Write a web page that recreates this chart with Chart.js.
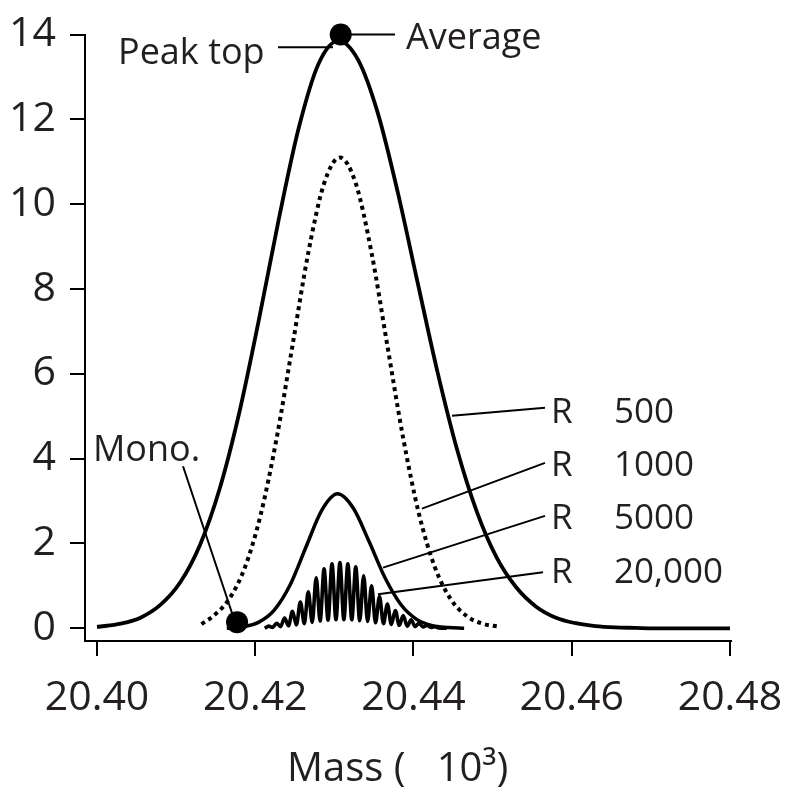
<!DOCTYPE html>
<html>
<head>
<meta charset="utf-8">
<script src="https://cdn.jsdelivr.net/npm/chart.js@4.4.1/dist/chart.umd.min.js"></script>
<style>
  html, body { margin: 0; padding: 0; background: #fff; }
  #wrap { width: 785px; height: 790px; }
</style>
</head>
<body>
<div id="wrap"><canvas id="canvas"></canvas></div>
<script>
// mass values are in units of 10^3
const massR500 = [20.400, 20.403, 20.4055, 20.408, 20.4105, 20.413, 20.4155, 20.418, 20.4205, 20.423, 20.4255, 20.428, 20.4305,
    20.433, 20.4355, 20.438, 20.4405, 20.443, 20.4455, 20.448, 20.4505, 20.453, 20.4555, 20.458, 20.4605, 20.463, 20.4655,
    20.468, 20.4705, 20.480];
const intR500 = [0.03, 0.11, 0.25, 0.55, 1.08, 1.96, 3.29, 5.10, 7.31, 9.67, 11.80, 13.31, 13.85,
    13.40, 12.14, 10.29, 8.17, 6.07, 4.22, 2.75, 1.67, 0.96, 0.51, 0.25, 0.12, 0.05, 0.02,
    0.01, 0, 0];

const massR1000 = [20.4132, 20.4147, 20.4167, 20.4187, 20.4207, 20.4227, 20.4247, 20.4267, 20.4287, 20.4307,
    20.4327, 20.4347, 20.4367, 20.4387, 20.4407, 20.4427, 20.4447, 20.4467, 20.4487, 20.4507];
const intR1000 = [0.10, 0.29, 0.69, 1.44, 2.69, 4.48, 6.66, 8.85, 10.49, 11.10,
    10.49, 8.85, 6.66, 4.48, 2.69, 1.44, 0.69, 0.29, 0.11, 0.04];

const massR5000 = [20.4164, 20.4184, 20.4204, 20.4224, 20.4244, 20.4264, 20.4284, 20.4304,
    20.4324, 20.4344, 20.4364, 20.4384, 20.4404, 20.4424, 20.4444, 20.4464];
const intR5000 = [0, 0.035, 0.14, 0.43, 1.02, 1.91, 2.78, 3.17,
    2.83, 2.04, 1.19, 0.56, 0.21, 0.06, 0.02, 0];

// isotope peaks and the valleys between them
const massR20000 = [20.4212, 20.4217, 20.4222, 20.4227, 20.4232, 20.4237, 20.4242, 20.4247, 20.4252, 20.4257,
    20.4262, 20.4267, 20.4272, 20.4277, 20.4282, 20.4287, 20.4292, 20.4297, 20.4302, 20.4307, 20.4312, 20.4317,
    20.4322, 20.4327, 20.4332, 20.4337, 20.4342, 20.4347, 20.4352, 20.4357, 20.4362, 20.4367, 20.4372, 20.4377,
    20.4382, 20.4387, 20.4392, 20.4397, 20.4402, 20.4407, 20.4412, 20.4417, 20.4422, 20.4427, 20.4432, 20.4442];
const intR20000 = [0, 0.05, 0.02, 0.12, 0.04, 0.24, 0.06, 0.40, 0.08, 0.62,
    0.11, 0.86, 0.14, 1.19, 0.17, 1.40, 0.19, 1.52, 0.20, 1.55, 0.20, 1.52,
    0.20, 1.45, 0.18, 1.24, 0.16, 1.00, 0.13, 0.75, 0.11, 0.57, 0.09, 0.42,
    0.07, 0.30, 0.05, 0.20, 0.04, 0.12, 0.03, 0.07, 0.02, 0.04, 0.01, 0];

const xTicks = [20.40, 20.42, 20.44, 20.46, 20.48];
const yTicks = [0, 2, 4, 6, 8, 10, 12, 14];

// marked points: average mass (peak top) and monoisotopic mass
const markMass = [20.4308, 20.4177];
const markInt = [14.0, 0.145];

// leader lines [from, to] in mass / intensity units
const leaders = [
    [[20.42288, 13.70], [20.42983, 13.70]],
    [[20.43198, 14.00], [20.43766, 14.00]],
    [[20.41087, 3.82], [20.41706, 0.36]],
    [[20.44487, 5.01], [20.45662, 5.20]],
    [[20.44107, 2.82], [20.45662, 3.90]],
    [[20.43615, 1.43], [20.45662, 2.65]],
    [[20.43551, 0.80], [20.45637, 1.32]]
];

const notes = [
    {text: 'Peak top', x: 20.40265, y: 13.30, size: 36},
    {text: 'Average', x: 20.43905, y: 13.65, size: 36},
    {text: 'Mono.', x: 20.39949, y: 3.94, size: 36},
    {text: 'R', x: 20.45738, y: 4.83, size: 35},
    {text: '500', x: 20.46534, y: 4.83, size: 35},
    {text: 'R', x: 20.45738, y: 3.59, size: 35},
    {text: '1000', x: 20.46534, y: 3.59, size: 35},
    {text: 'R', x: 20.45738, y: 2.35, size: 35},
    {text: '5000', x: 20.46534, y: 2.35, size: 35},
    {text: 'R', x: 20.45738, y: 1.06, size: 35},
    {text: '20,000', x: 20.46534, y: 1.06, size: 35}
];

const ink = '#231f20';

function toPoints(xs, ys) {
    return xs.map((x, i) => ({x: x, y: ys[i]}));
}

function curve(data, width, dash) {
    return {
        data: data,
        borderColor: '#000',
        borderWidth: width,
        borderDash: dash || [],
        borderCapStyle: 'butt',
        pointRadius: 0,
        cubicInterpolationMode: 'monotone',
        fill: false
    };
}

const datasets = [
    curve(toPoints(massR20000, intR20000), 3.6),
    curve(toPoints(massR5000, intR5000), 3.5),
    curve(toPoints(massR1000, intR1000), 4, [4, 4]),
    curve(toPoints(massR500, intR500), 3.8)
];

leaders.forEach(function(l) {
    datasets.push({
        data: [{x: l[0][0], y: l[0][1]}, {x: l[1][0], y: l[1][1]}],
        borderColor: '#000',
        borderWidth: 2,
        pointRadius: 0,
        clip: false
    });
});

datasets.push({
    data: toPoints(markMass, markInt),
    showLine: false,
    pointRadius: 11,
    pointBackgroundColor: '#000',
    pointBorderWidth: 0,
    clip: false
});

const notePlugin = {
    id: 'notes',
    afterDatasetsDraw(chart) {
        const ctx = chart.ctx;
        const xs = chart.scales.x, ys = chart.scales.y;
        ctx.save();
        ctx.fillStyle = ink;
        ctx.textAlign = 'left';
        ctx.textBaseline = 'alphabetic';
        notes.forEach(function(n) {
            ctx.font = n.size + 'px "Open Sans"';
            ctx.fillText(n.text, xs.getPixelForValue(n.x), ys.getPixelForValue(n.y));
        });
        ctx.restore();
    }
};

const tickFont = {family: '"Open Sans"', size: 41, lineHeight: 1};

new Chart(document.getElementById('canvas'), {
    type: 'line',
    data: {datasets: datasets},
    options: {
        responsive: true,
        maintainAspectRatio: false,
        animation: false,
        layout: {padding: {left: 0, right: 54, top: 30, bottom: 0}},
        plugins: {legend: {display: false}, tooltip: {enabled: false}},
        scales: {
            x: {
                type: 'linear',
                min: 20.39848,
                max: 20.48013,
                afterBuildTicks: function(s) { s.ticks = xTicks.map(v => ({value: v})); },
                afterFit: function(s) {
                    s.height = 149;
                    s.paddingLeft = 0;
                    s.paddingRight = 0;
                },
                ticks: {
                    autoSkip: false,
                    maxRotation: 0,
                    padding: 22,
                    color: ink,
                    font: tickFont,
                    callback: v => v.toFixed(2)
                },
                grid: {drawOnChartArea: false, drawTicks: true, tickLength: 15, color: '#000', lineWidth: 2},
                border: {display: true, color: '#000', width: 2},
                title: {
                    display: true,
                    text: 'Mass (   10³)  ',
                    color: ink,
                    font: {family: '"Open Sans"', size: 40, lineHeight: 1},
                    padding: {top: 0, bottom: 0}
                }
            },
            y: {
                min: -0.3,
                max: 14,
                afterBuildTicks: function(s) { s.ticks = yTicks.map(v => ({value: v})); },
                afterFit: function(s) { s.width = 85; },
                ticks: {
                    padding: 14,
                    color: ink,
                    font: tickFont,
                    callback: v => String(v)
                },
                grid: {drawOnChartArea: false, drawTicks: true, tickLength: 15, color: '#000', lineWidth: 2},
                border: {display: true, color: '#000', width: 2}
            }
        }
    },
    plugins: [notePlugin]
});
</script>
</body>
</html>
